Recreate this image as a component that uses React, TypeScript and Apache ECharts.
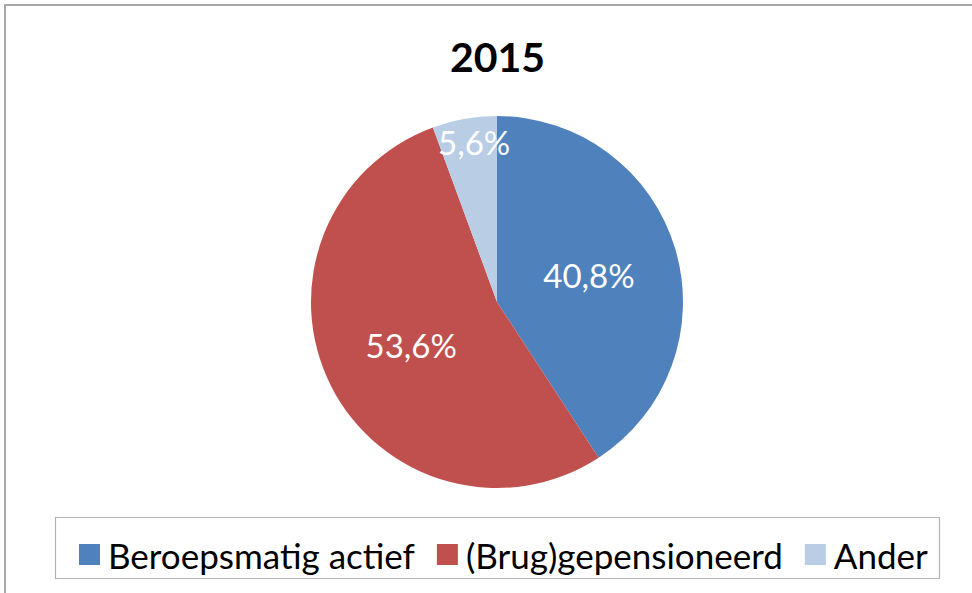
import React, { useEffect, useRef } from "react";
import * as echarts from "echarts";

const titleText = "2015";
const categories = ["Beroepsmatig actief", "(Brug)gepensioneerd", "Ander"];
const values = [40.8, 53.6, 5.6];
const colors = ["#4F81BD", "#C0504D", "#B9CDE5"];

export default function App() {
  const ref = useRef<HTMLDivElement>(null);
  useEffect(() => {
    if (!ref.current) return;
    const chart = echarts.init(ref.current, null, { renderer: "svg" });
    const font = "Lato, 'Open Sans', sans-serif";
    chart.setOption({
      animation: false,
      backgroundColor: "#ffffff",
      color: colors,
      title: {
        text: titleText,
        left: 445,
        top: 31,
        textStyle: { fontFamily: font, fontWeight: "bold", fontSize: 41, color: "#000" },
      },
      legend: {
        left: 79,
        top: 537,
        padding: 0,
        itemWidth: 21,
        itemHeight: 21,
        itemGap: 22,
        icon: "rect",
        textStyle: { fontFamily: font, fontSize: 35, color: "#000", padding: [0, 0, 0, 3] },
        data: categories,
      },
      graphic: [
        {
          type: "rect",
          shape: { x: 5, y: 5, width: 1000, height: 1000 },
          style: { fill: "none", stroke: "#a8a8a8", lineWidth: 2 },
          silent: true,
        },
        {
          type: "rect",
          shape: { x: 55.5, y: 517.5, width: 884, height: 61 },
          style: { fill: "none", stroke: "#b4b4b4", lineWidth: 1.2 },
          silent: true,
        },
      ],
      series: [
        {
          type: "pie",
          center: [497, 302],
          radius: [0, 186],
          startAngle: 90,
          clockwise: true,
          avoidLabelOverlap: false,
          itemStyle: { borderWidth: 0 },
          label: {
            show: true,
            position: "inside",
            formatter: (p: any) => String(p.value).replace(".", ",") + "%",
            fontFamily: font,
            fontSize: 33,
            color: "#ffffff",
          },
          labelLine: { show: false },
          data: categories.map((name, i) => ({
            name,
            value: values[i],
            label: i === 2 ? { offset: [-6, -65] } : undefined,
          })),
        },
      ],
    });
    return () => chart.dispose();
  }, []);
  return (
    <div
      ref={ref}
      style={{ position: "fixed", left: 0, top: 0, width: 972, height: 593 }}
    />
  );
}
